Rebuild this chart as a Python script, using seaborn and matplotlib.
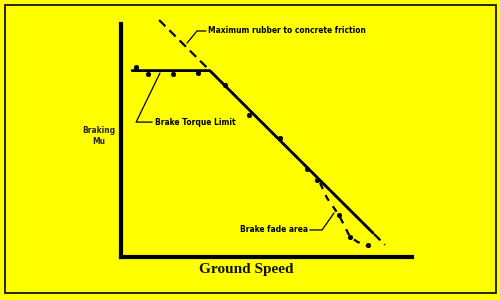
import matplotlib
matplotlib.use("Agg")
import matplotlib.pyplot as plt
import seaborn as sns
import pandas as pd
from matplotlib.patches import Rectangle

sns.set_style("white")

# ---- data (speed in % of axis, braking mu) ----
friction_speed = [13.1, 90.7]
friction_mu = [1.017, 0.052]

braking_speed = [3.8, 30.5, 86.6]
braking_mu = [0.800, 0.800, 0.103]

point_speed = [5.2, 9.3, 17.9, 26.5, 35.7, 44.0, 54.6, 63.9, 67.4]
point_mu = [0.815, 0.785, 0.785, 0.790, 0.738, 0.609, 0.511, 0.378, 0.330]

fade_speed = [68.4, 70.8, 74.9, 78.7, 81.4, 85.6]
fade_mu = [0.318, 0.253, 0.180, 0.086, 0.064, 0.043]

fade_point_speed = [74.9, 78.7, 84.9]
fade_point_mu = [0.180, 0.086, 0.050]

labels = {
    "friction": "Maximum rubber to concrete friction",
    "torque": "Brake Torque Limit",
    "fade": "Brake fade area",
    "ylabel": "Braking\nMu",
    "xlabel": "Ground Speed",
}

YEL = "#FFFF00"
fig = plt.figure(figsize=(5, 3), dpi=100, facecolor=YEL)
ax = fig.add_axes([121 / 500, (300 - 257) / 300, (412 - 121) / 500, (257 - 24) / 300])
ax.set_facecolor(YEL)
ax.set_xlim(0, 100)
ax.set_ylim(0, 1)

df_f = pd.DataFrame({"speed": friction_speed, "mu": friction_mu})
sns.lineplot(data=df_f, x="speed", y="mu", ax=ax, color="black", lw=1.6,
             linestyle=(0, (4, 2.5)), sort=False, clip_on=False)

df_b = pd.DataFrame({"speed": braking_speed, "mu": braking_mu})
sns.lineplot(data=df_b, x="speed", y="mu", ax=ax, color="black", lw=2.0,
             sort=False, clip_on=False)

df_fd = pd.DataFrame({"speed": fade_speed, "mu": fade_mu})
sns.lineplot(data=df_fd, x="speed", y="mu", ax=ax, color="black", lw=1.6,
             linestyle=(0, (3, 3)), sort=False, clip_on=False)

df_p = pd.DataFrame({"speed": point_speed + fade_point_speed,
                     "mu": point_mu + fade_point_mu})
sns.scatterplot(data=df_p, x="speed", y="mu", ax=ax, color="black", marker="o",
                s=12, edgecolor="black", clip_on=False, zorder=5)

for s in ["top", "right"]:
    ax.spines[s].set_visible(False)
for s in ["left", "bottom"]:
    ax.spines[s].set_linewidth(3)
    ax.spines[s].set_color("black")
    ax.spines[s].set_capstyle("projecting")
ax.set_xticks([])
ax.set_yticks([])
ax.set_xlabel("")
ax.set_ylabel("")

afont = dict(family="DejaVu Sans", fontweight="bold", fontsize=6.0,
             fontstretch="condensed", color="black", va="center", ha="left")

# leaders
ax.plot([29.2, 26.1, 22.7], [0.970, 0.970, 0.918], color="black", lw=0.9, clip_on=False)
ax.text(29.9, 0.970, labels["friction"], **afont)
ax.plot([13.4, 5.2, 10.7], [0.790, 0.579, 0.579], color="black", lw=0.9, clip_on=False)
ax.text(11.7, 0.579, labels["torque"], **afont)
ax.plot([64.9, 69.1, 73.2], [0.116, 0.116, 0.189], color="black", lw=0.9, clip_on=False)
ax.text(64.3, 0.120, labels["fade"], ha="right",
        **{k: v for k, v in afont.items() if k != "ha"})

fig.text(99 / 500, 1 - 136 / 300, labels["ylabel"], ha="center", va="center",
         family="DejaVu Sans", fontweight="bold", fontsize=6.0, fontstretch="condensed",
         linespacing=1.4)
fig.text(246 / 500, 1 - 270 / 300, labels["xlabel"], ha="center", va="center",
         family="Liberation Serif", fontweight="bold", fontsize=11, color="#111111")

fig.patches.append(Rectangle((5 / 500, 1 - 293 / 300), 491 / 500, 288 / 300,
                             transform=fig.transFigure, fill=False,
                             edgecolor="black", lw=1.2))

fig.savefig("out.png", dpi=100, facecolor=YEL)
